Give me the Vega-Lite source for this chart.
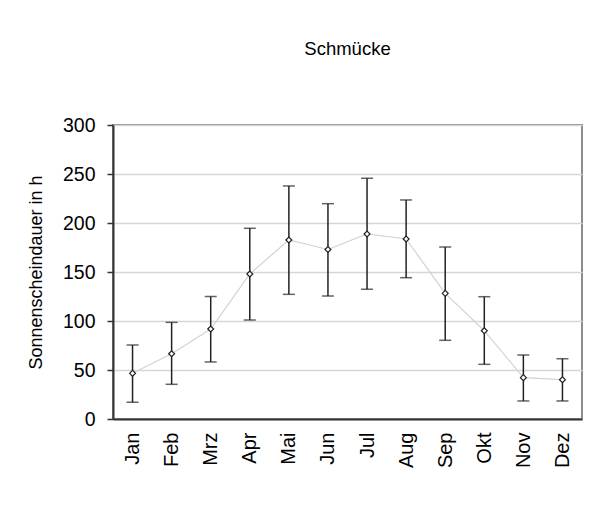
{
  "$schema": "https://vega.github.io/schema/vega-lite/v6.json",
  "width": 469,
  "height": 294,
  "autosize": "none",
  "padding": {"left": 113, "top": 125, "right": 17, "bottom": 113},
  "background": "white",
  "title": {"text": "Schmücke", "fontSize": 18.5, "font": "Liberation Sans", "fontWeight": "normal", "color": "#000000", "anchor": "middle", "offset": 57},
  "config": {
    "font": "Liberation Sans",
    "view": {"stroke": "#8c8c8c", "strokeWidth": 2},
    "axis": {"labelFont": "Liberation Sans", "titleFont": "Liberation Sans", "labelColor": "#000000", "titleColor": "#000000"}
  },
  "data": {"values": [
    {"month": "Jan", "mean": 46.6, "low": 17, "high": 75.5},
    {"month": "Feb", "mean": 66.6, "low": 35.4, "high": 98.6},
    {"month": "Mrz", "mean": 91.8, "low": 58.2, "high": 125},
    {"month": "Apr", "mean": 148, "low": 101, "high": 194.6},
    {"month": "Mai", "mean": 182.7, "low": 127.2, "high": 237.8},
    {"month": "Jun", "mean": 173, "low": 125.5, "high": 219.7},
    {"month": "Jul", "mean": 188.8, "low": 132.3, "high": 245.6},
    {"month": "Aug", "mean": 183.7, "low": 144.2, "high": 223.5},
    {"month": "Sep", "mean": 128.2, "low": 80.3, "high": 175.5},
    {"month": "Okt", "mean": 90.1, "low": 55.8, "high": 124.8},
    {"month": "Nov", "mean": 42.2, "low": 18.4, "high": 65.3},
    {"month": "Dez", "mean": 40.1, "low": 18.4, "high": 61.5}
  ]},
  "encoding": {
    "x": {
      "field": "month", "type": "ordinal", "sort": null,
      "scale": {"type": "point", "padding": 0.5},
      "axis": {"title": null, "labelAngle": -90, "labelFontSize": 20, "ticks": false, "labelPadding": 13, "domainColor": "#333333", "domainWidth": 2, "grid": false}
    }
  },
  "layer": [
    {
      "mark": {"type": "line", "color": "#d3d3d3", "strokeWidth": 1.2},
      "encoding": {
        "y": {
          "field": "mean", "type": "quantitative",
          "scale": {"domain": [0, 300], "nice": false},
          "axis": {"title": "Sonnenscheindauer in h", "titleFontSize": 18, "titleFontWeight": "normal", "titlePadding": 17, "values": [0, 50, 100, 150, 200, 250, 300], "labelFontSize": 19.5, "labelPadding": 12, "tickSize": 6, "tickColor": "#333333", "tickWidth": 1.5, "domainColor": "#333333", "domainWidth": 2, "grid": true, "gridColor": "#d6d6d6", "gridWidth": 1.5}
        }
      }
    },
    {
      "mark": {"type": "rule", "color": "#222222", "strokeWidth": 1.5},
      "encoding": {"y": {"field": "low", "type": "quantitative"}, "y2": {"field": "high"}}
    },
    {
      "mark": {"type": "tick", "color": "#222222", "size": 12, "thickness": 1.5},
      "encoding": {"y": {"field": "low", "type": "quantitative"}}
    },
    {
      "mark": {"type": "tick", "color": "#222222", "size": 12, "thickness": 1.5},
      "encoding": {"y": {"field": "high", "type": "quantitative"}}
    },
    {
      "mark": {"type": "point", "shape": "diamond", "filled": true, "fill": "white", "stroke": "#222222", "strokeWidth": 1.2, "size": 35, "opacity": 1},
      "encoding": {"y": {"field": "mean", "type": "quantitative"}}
    }
  ]
}
